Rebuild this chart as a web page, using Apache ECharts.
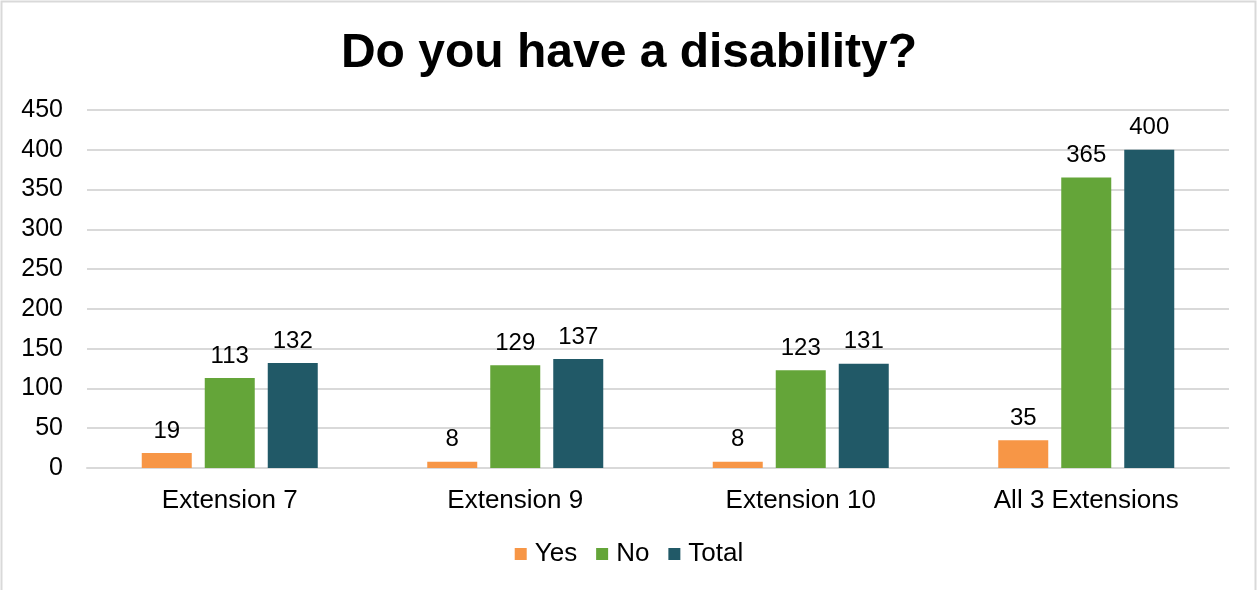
<!DOCTYPE html>
<html>
<head>
<meta charset="utf-8">
<script src="https://cdn.jsdelivr.net/npm/echarts@6/dist/echarts.min.js"></script>
<style>
  html, body { margin: 0; padding: 0; background: #fff; }
  #chart { width: 1258px; height: 590px; }
</style>
</head>
<body>
<div id="chart"></div>
<script>
// Survey responses per extension
const categories = ['Extension 7', 'Extension 9', 'Extension 10', 'All 3 Extensions'];
const yesValues = [19, 8, 8, 35];
const noValues = [113, 129, 123, 365];
const totalValues = [132, 137, 131, 400];
const yTicks = { min: 0, max: 450, interval: 50 };

const FONT = '"Liberation Sans", Arial, sans-serif';

const chart = echarts.init(document.getElementById('chart'), null, { renderer: 'canvas' });

function barSeries(name, data, color) {
  return {
    name: name,
    type: 'bar',
    data: data,
    barWidth: 50,
    barGap: '26%',
    itemStyle: { color: color },
    label: {
      show: true,
      position: 'top',
      distance: 10,
      color: '#000',
      fontFamily: FONT,
      fontSize: 24
    }
  };
}

chart.setOption({
  animation: false,
  backgroundColor: '#fff',
  title: {
    text: 'Do you have a disability?',
    left: 'center',
    top: 25,
    textStyle: { fontFamily: FONT, fontSize: 48, fontWeight: 'bold', color: '#000' }
  },
  graphic: [{
    type: 'rect',
    shape: { x: 1.5, y: 1.5, width: 1254, height: 600 },
    style: { fill: null, stroke: '#d9d9d9', lineWidth: 2 },
    silent: true
  }],
  legend: {
    bottom: 18,
    left: 'center',
    itemWidth: 12,
    itemHeight: 12,
    itemGap: 19,
    icon: 'rect',
    textStyle: { fontFamily: FONT, fontSize: 26, color: '#000', padding: [0, 0, 0, 3] },
    data: ['Yes', 'No', 'Total']
  },
  grid: { left: 87, right: 29, top: 110, bottom: 122, containLabel: false },
  xAxis: {
    type: 'category',
    data: categories,
    axisTick: { show: false },
    axisLine: { show: true, lineStyle: { color: '#d9d9d9', width: 2 } },
    axisLabel: { fontFamily: FONT, fontSize: 26, color: '#000', margin: 20 }
  },
  yAxis: {
    type: 'value',
    min: yTicks.min,
    max: yTicks.max,
    interval: yTicks.interval,
    axisLine: { show: false },
    axisTick: { show: false },
    axisLabel: { fontFamily: FONT, fontSize: 25, color: '#000', margin: 24 },
    splitLine: { lineStyle: { color: '#d9d9d9', width: 2 } }
  },
  series: [
    barSeries('Yes', yesValues, '#F79646'),
    barSeries('No', noValues, '#64A539'),
    barSeries('Total', totalValues, '#215967')
  ]
});
</script>
</body>
</html>
